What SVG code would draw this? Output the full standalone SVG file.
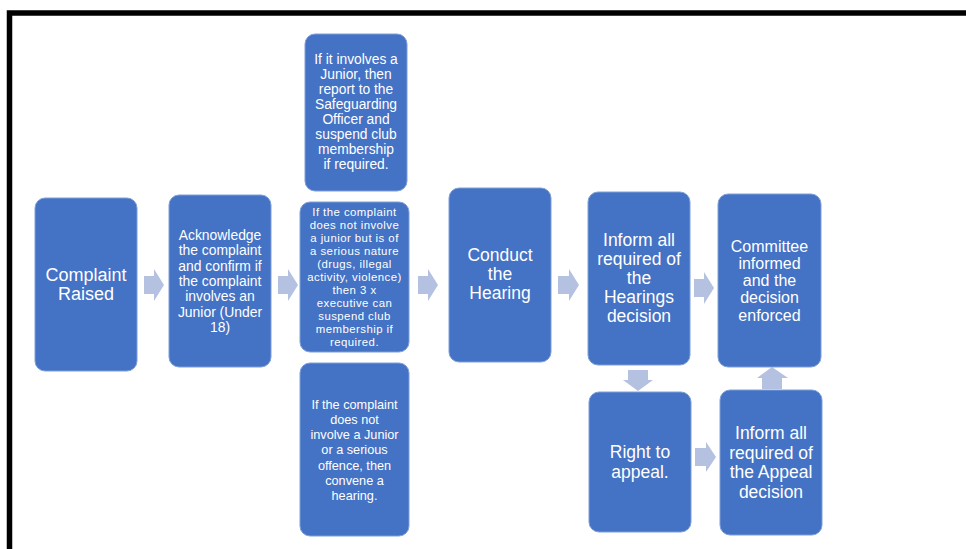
<svg xmlns="http://www.w3.org/2000/svg" width="966" height="549" viewBox="0 0 966 549">
<style>
.box{fill:#4472C4;stroke:#7f9fd8;stroke-width:1}
.t{fill:#ffffff;font-family:"Liberation Sans",Arial,sans-serif;text-anchor:middle}
.arr{fill:#B4C1E1}
</style>
<rect x="0" y="0" width="966" height="549" fill="#ffffff"/>
<rect x="9.5" y="13" width="1000" height="600" fill="none" stroke="#000000" stroke-width="5.5"/>
<g id="connectors">
<polygon class="arr" points="144,276 154,276 154,269 164,285 154,301 154,294 144,294"/>
<polygon class="arr" points="278,276 288,276 288,269 298,285 288,301 288,294 278,294"/>
<polygon class="arr" points="418,276 428,276 428,269 438,285 428,301 428,294 418,294"/>
<polygon class="arr" points="558,276 569,276 569,269 579,285 569,301 569,294 558,294"/>
<polygon class="arr" points="694,279 704,279 704,272 714,288 704,304 704,297 694,297"/>
<polygon class="arr" points="628,370 648,370 648,380 653,380 638,391 623,380 628,380"/>
<polygon class="arr" points="695,448 706,448 706,442 716,457 706,472 706,466 695,466"/>
<polygon class="arr" points="762,389 782,389 782,378 788,378 772,367 757,378 762,378"/>
</g>
<g id="n1">
<rect class="box" x="35" y="198" width="102" height="173" rx="10"/>
<text class="t" font-size="18"><tspan x="86" y="281">Complaint</tspan><tspan x="86" y="300">Raised</tspan></text>
</g>
<g id="n2">
<rect class="box" x="169" y="195" width="102" height="172" rx="10"/>
<text class="t" font-size="13.9"><tspan x="220" y="240">Acknowledge</tspan><tspan x="220" y="255.3">the complaint</tspan><tspan x="220" y="270.6">and confirm if</tspan><tspan x="220" y="285.9">the complaint</tspan><tspan x="220" y="301.2">involves an</tspan><tspan x="220" y="316.5">Junior (Under</tspan><tspan x="220" y="331.8">18)</tspan></text>
</g>
<g id="n3">
<rect class="box" x="305" y="34" width="102" height="157" rx="10"/>
<text class="t" font-size="13.8"><tspan x="356" y="64">If it involves a</tspan><tspan x="356" y="79">Junior, then</tspan><tspan x="356" y="94">report to the</tspan><tspan x="356" y="109">Safeguarding</tspan><tspan x="356" y="124">Officer and</tspan><tspan x="356" y="139">suspend club</tspan><tspan x="356" y="154">membership</tspan><tspan x="356" y="169">if required.</tspan></text>
</g>
<g id="n4">
<rect class="box" x="300" y="202" width="109" height="150" rx="10"/>
<text class="t" font-size="11.4" letter-spacing="0.45"><tspan x="354.5" y="216.2">If the complaint</tspan><tspan x="354.5" y="229.2">does not involve</tspan><tspan x="354.5" y="242.2">a junior but is of</tspan><tspan x="354.5" y="255.2">a serious nature</tspan><tspan x="354.5" y="268.2">(drugs, illegal</tspan><tspan x="354.5" y="281.2">activity, violence)</tspan><tspan x="354.5" y="294.2">then 3 x</tspan><tspan x="354.5" y="307.2">executive can</tspan><tspan x="354.5" y="320.2">suspend club</tspan><tspan x="354.5" y="333.2">membership if</tspan><tspan x="354.5" y="346.2">required.</tspan></text>
</g>
<g id="n5">
<rect class="box" x="300" y="363" width="109" height="173" rx="10"/>
<text class="t" font-size="12.7"><tspan x="354.5" y="408.5">If the complaint</tspan><tspan x="354.5" y="423.8">does not</tspan><tspan x="354.5" y="439.1">involve a Junior</tspan><tspan x="354.5" y="454.4">or a serious</tspan><tspan x="354.5" y="469.7">offence, then</tspan><tspan x="354.5" y="485">convene a</tspan><tspan x="354.5" y="500.3">hearing.</tspan></text>
</g>
<g id="n6">
<rect class="box" x="449" y="188" width="102" height="174" rx="10"/>
<text class="t" font-size="17.5"><tspan x="500" y="261">Conduct</tspan><tspan x="500" y="280">the</tspan><tspan x="500" y="299">Hearing</tspan></text>
</g>
<g id="n7">
<rect class="box" x="588" y="192" width="102" height="173" rx="10"/>
<text class="t" font-size="17.5"><tspan x="639" y="246">Inform all</tspan><tspan x="639" y="265">required of</tspan><tspan x="639" y="284">the</tspan><tspan x="639" y="303">Hearings</tspan><tspan x="639" y="322">decision</tspan></text>
</g>
<g id="n8">
<rect class="box" x="718" y="194" width="103" height="173" rx="10"/>
<text class="t" font-size="16"><tspan x="769.5" y="251.5">Committee</tspan><tspan x="769.5" y="268.8">informed</tspan><tspan x="769.5" y="286.1">and the</tspan><tspan x="769.5" y="303.4">decision</tspan><tspan x="769.5" y="320.7">enforced</tspan></text>
</g>
<g id="n9">
<rect class="box" x="589" y="392" width="102" height="140" rx="10"/>
<text class="t" font-size="17.5"><tspan x="640" y="458">Right to</tspan><tspan x="640" y="478">appeal.</tspan></text>
</g>
<g id="n10">
<rect class="box" x="720" y="390" width="102" height="145" rx="10"/>
<text class="t" font-size="17.5"><tspan x="771" y="439">Inform all</tspan><tspan x="771" y="458.5">required of</tspan><tspan x="771" y="478">the Appeal</tspan><tspan x="771" y="497.5">decision</tspan></text>
</g>
</svg>
